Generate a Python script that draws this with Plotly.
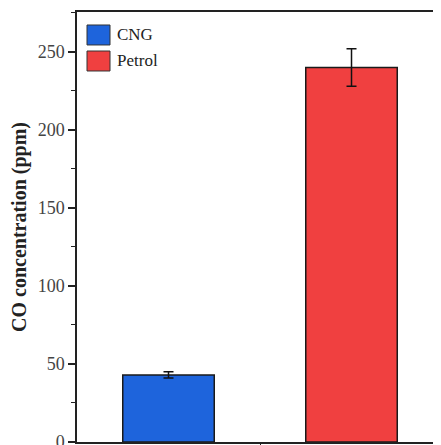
import plotly.graph_objects as go

categories = [1, 2]
series_names = ["CNG", "Petrol"]
values = [43, 240]
errors = [2, 12]
colors = ["rgb(30,100,220)", "rgb(240,64,64)"]
ytick_vals = [0, 50, 100, 150, 200, 250]

fig = go.Figure()
for i in range(2):
    fig.add_trace(go.Bar(
        x=[categories[i]], y=[values[i]], name=series_names[i],
        width=0.5, showlegend=False,
        marker=dict(color=colors[i], line=dict(color="#1a1a1a", width=1.5)),
        error_y=dict(type="data", array=[errors[i]], color="#111", thickness=1.5, width=5),
    ))

# custom legend (large swatches like the original)
legend_rows = [(0.9698, 0.9233), (0.9093, 0.8628)]
for i, (y1, y0) in enumerate(legend_rows):
    fig.add_shape(type="rect", xref="paper", yref="paper",
                  x0=0.0275, x1=0.0907, y0=y0, y1=y1,
                  fillcolor=colors[i], line=dict(color="#333", width=1))
    fig.add_annotation(xref="paper", yref="paper", x=0.105, y=(y0 + y1) / 2,
                       xanchor="left", yanchor="middle", showarrow=False,
                       text=series_names[i], font=dict(size=17, color="#222"))

fig.update_layout(
    width=441, height=445,
    margin=dict(l=69, r=8, t=4, b=11),
    plot_bgcolor="white", paper_bgcolor="white",
    font=dict(family="Liberation Serif", color="#333"),
    barmode="overlay",
)
fig.update_xaxes(
    range=[0.5, 2.489], showline=True, linecolor="#222", linewidth=1.5, mirror=True,
    tickvals=[1.5], ticktext=[""], ticks="outside", ticklen=5, tickcolor="#222",
    showgrid=False, zeroline=False, automargin=False,
)
fig.update_yaxes(
    range=[0, 275.6], showline=True, linecolor="#222", linewidth=1.5,
    tickvals=ytick_vals, ticks="outside", ticklen=7, tickwidth=1.5, tickcolor="#222",
    tickfont=dict(size=18, color="#444"),
    minor=dict(dtick=25, ticks="outside", ticklen=4, tickcolor="#222", tickwidth=1.2),
    showgrid=False, zeroline=False, automargin=False,
    title=dict(text="<b>CO concentration (ppm)</b>", font=dict(size=20, color="#222"), standoff=9),
)

fig.write_html("out.html")
